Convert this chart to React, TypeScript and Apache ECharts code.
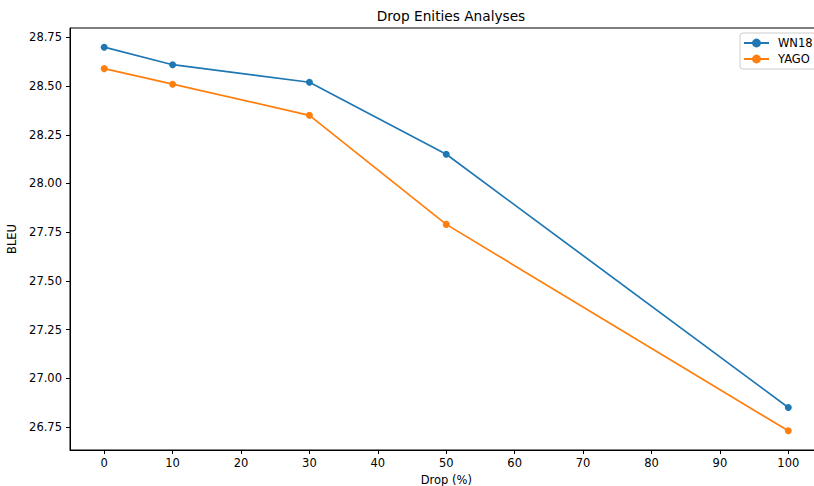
import React, { useEffect, useRef } from "react";
import * as echarts from "echarts";

const dropPercent = [0, 10, 30, 50, 100];
const wn18 = [28.70, 28.61, 28.52, 28.15, 26.85];
const yago = [28.59, 28.51, 28.35, 27.79, 26.73];
const xTicks = [0, 10, 20, 30, 40, 50, 60, 70, 80, 90, 100];
const yTicks = [26.75, 27.0, 27.25, 27.5, 27.75, 28.0, 28.25, 28.5, 28.75];

const FONT = "DejaVu Sans";

export default function App() {
  const ref = useRef<HTMLDivElement>(null);
  useEffect(() => {
    if (!ref.current) return;
    const chart = echarts.init(ref.current, undefined, { renderer: "svg" });
    const all = [...wn18, ...yago];
    const lo = Math.min(...all);
    const hi = Math.max(...all);
    const pad = (hi - lo) * 0.05;
    const xPad = (Math.max(...dropPercent) - Math.min(...dropPercent)) * 0.05;
    const axisCommon = {
      axisLine: { show: true, onZero: false, lineStyle: { color: "#000", width: 1 } },
      axisTick: { show: true, length: 4, lineStyle: { color: "#000", width: 1 } },
      splitLine: { show: false },
      nameTextStyle: { color: "#000", fontFamily: FONT, fontSize: 11.5 },
    };
    chart.setOption({
      animation: false,
      backgroundColor: "#fff",
      title: {
        text: "Drop Enities Analyses",
        left: 446,
        textAlign: "center",
        top: 4,
        textStyle: { color: "#000", fontFamily: FONT, fontSize: 13.7, fontWeight: "normal" },
      },
      grid: {
        left: 70,
        top: 28,
        width: 752.5,
        height: 422,
        outerBoundsMode: "none",
        containLabel: false,
        show: true,
        borderColor: "#000",
        borderWidth: 1,
        backgroundColor: "transparent",
      },
      legend: {
        orient: "vertical",
        left: 740,
        top: 33,
        itemWidth: 25,
        itemHeight: 11,
        itemGap: 4,
        padding: [4, 8, 4, 3],
        backgroundColor: "rgba(255,255,255,0.8)",
        borderColor: "#cccccc",
        borderWidth: 1,
        borderRadius: 3,
        textStyle: { color: "#000", fontFamily: FONT, fontSize: 11.5, padding: [0, 0, 0, 4] },
        data: ["WN18", "YAGO"],
      },
      xAxis: {
        type: "value",
        min: Math.min(...dropPercent) - xPad,
        max: Math.max(...dropPercent) + xPad,
        name: "Drop (%)",
        nameLocation: "middle",
        nameGap: 21,
        ...axisCommon,
        axisTick: { ...axisCommon.axisTick, customValues: xTicks },
        axisLabel: {
          customValues: xTicks,
          margin: 7,
          color: "#000",
          fontFamily: FONT,
          fontSize: 11.5,
        },
      },
      yAxis: {
        type: "value",
        min: lo - pad,
        max: hi + pad,
        name: "BLEU",
        nameLocation: "middle",
        nameGap: 48,
        nameRotate: 90,
        ...axisCommon,
        axisTick: { ...axisCommon.axisTick, customValues: yTicks },
        axisLabel: {
          customValues: yTicks,
          margin: 8,
          color: "#000",
          fontFamily: FONT,
          fontSize: 11.5,
          formatter: (v: number) => v.toFixed(2),
        },
      },
      series: [
        {
          name: "WN18",
          type: "line",
          data: dropPercent.map((x, i) => [x, wn18[i]]),
          symbol: "circle",
          symbolSize: 7,
          color: "#1f77b4",
          lineStyle: { width: 1.7, color: "#1f77b4" },
          itemStyle: { color: "#1f77b4" },
        },
        {
          name: "YAGO",
          type: "line",
          data: dropPercent.map((x, i) => [x, yago[i]]),
          symbol: "circle",
          symbolSize: 7,
          color: "#ff7f0e",
          lineStyle: { width: 1.7, color: "#ff7f0e" },
          itemStyle: { color: "#ff7f0e" },
        },
      ],
    });
    return () => chart.dispose();
  }, []);
  return (
    <div
      ref={ref}
      style={{ position: "fixed", left: 0, top: 0, width: 814, height: 486 }}
    />
  );
}
